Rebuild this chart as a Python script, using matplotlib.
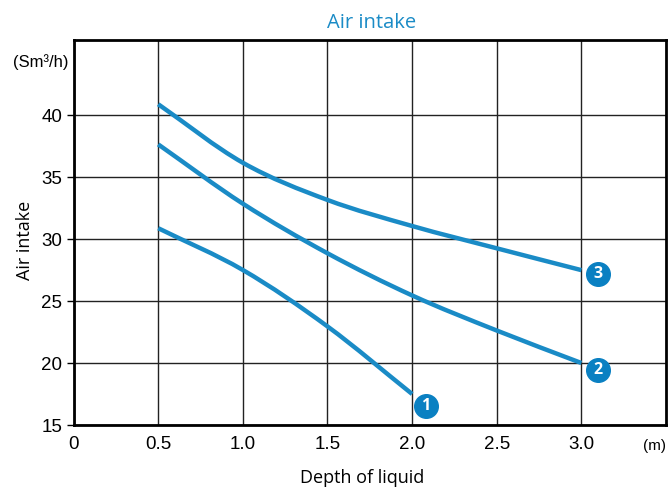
import matplotlib
matplotlib.use("Agg")
import matplotlib.pyplot as plt
from matplotlib.path import Path
from matplotlib.patches import PathPatch

depth1 = [0.5, 1.0, 1.5, 2.0]
air1 = [30.87, 27.5, 22.95, 17.5]
depth2 = [0.5, 1.0, 1.5, 2.0, 2.5, 3.0]
air2 = [37.63, 32.85, 28.85, 25.45, 22.62, 20.0]
depth3 = [0.5, 1.0, 1.5, 2.0, 2.5, 3.0]
air3 = [40.87, 36.15, 33.15, 31.05, 29.25, 27.49]
labels = ["1", "2", "3"]
label_pos = [(2.08, 16.5), (3.1, 19.4), (3.1, 27.2)]
xticks = [0, 0.5, 1.0, 1.5, 2.0, 2.5, 3.0]
xticklabels = ["0", "0.5", "1.0", "1.5", "2.0", "2.5", "3.0"]
yticks = [15, 20, 25, 30, 35, 40]

blue = "#1a8bc6"


def smooth_path(xs, ys):
    # Catmull-Rom through the read points, expressed as cubic Bezier segments
    pts = list(zip(xs, ys))
    verts = [pts[0]]
    codes = [Path.MOVETO]
    n = len(pts)
    for i in range(n - 1):
        p1 = pts[i]
        p2 = pts[i + 1]
        if i > 0:
            p0 = pts[i - 1]
        else:
            p0 = (2 * p1[0] - p2[0], 2 * p1[1] - p2[1])
        if i + 2 < n:
            p3 = pts[i + 2]
        else:
            p3 = (2 * p2[0] - p1[0], 2 * p2[1] - p1[1])
        c1 = (p1[0] + (p2[0] - p0[0]) / 6, p1[1] + (p2[1] - p0[1]) / 6)
        c2 = (p2[0] - (p3[0] - p1[0]) / 6, p2[1] - (p3[1] - p1[1]) / 6)
        verts += [c1, c2, p2]
        codes += [Path.CURVE4] * 3
    return Path(verts, codes)


fig = plt.figure(figsize=(6.69, 4.92), dpi=100)
ax = fig.add_axes([73.6/669, 1-425/492, 592.4/669, 385/492])
for d, a in [(depth1, air1), (depth2, air2), (depth3, air3)]:
    ax.add_patch(PathPatch(smooth_path(d, a), facecolor="none", edgecolor=blue,
                           lw=3.2, capstyle="butt", zorder=3,
                           transform=ax.transData))
for lab, (x, y) in zip(labels, label_pos):
    ax.plot(x, y, "o", ms=17, color="#0a80c2", zorder=4, clip_on=False)
    ax.text(x, y, lab, color="white", fontsize=11.5, fontweight="bold",
            ha="center", va="center", zorder=5, family="Open Sans")
ax.set_xlim(0, 3.5)
ax.set_ylim(15, 46.05)
ax.set_xticks(xticks)
ax.set_xticklabels(xticklabels)
ax.set_yticks(yticks)
ax.grid(True, color="#222222", lw=1.0)
ax.set_axisbelow(True)
for s in ax.spines.values():
    s.set_linewidth(2)
    s.set_color("black")
ax.tick_params(axis="x", length=0, pad=8, labelsize=13.5)
ax.tick_params(axis="y", length=5, width=1, pad=3, labelsize=13.5)
for t in ax.get_xticklabels() + ax.get_yticklabels():
    t.set_family("Liberation Sans")
fig.text(372/669, 1-23/492, "Air intake", color=blue, fontsize=14.5,
         ha="center", va="center", family="Open Sans")
fig.text(41/669, 1-62/492, "(Sm³/h)", fontsize=12, ha="center", va="center",
         family="Liberation Sans")
fig.text(654/669, 1-446/492, "(m)", fontsize=11, ha="center", va="center",
         family="Liberation Sans")
fig.text(25/669, 1-240/492, "Air intake", fontsize=13, rotation=90,
         ha="center", va="center", family="Open Sans")
fig.text(362/669, 1-478/492, "Depth of liquid", fontsize=13,
         ha="center", va="center", family="Open Sans")
fig.savefig("out.png", dpi=100)
